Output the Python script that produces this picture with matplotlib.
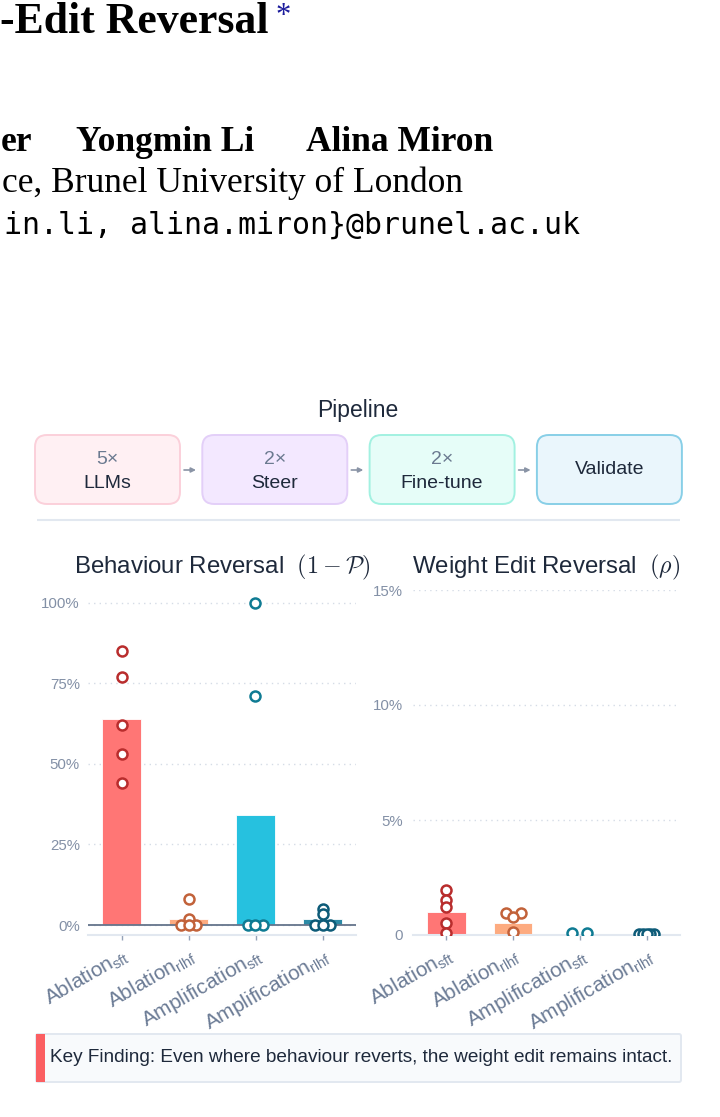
import numpy as np
import matplotlib
matplotlib.use("Agg")
import matplotlib.pyplot as plt
from matplotlib.patches import FancyBboxPatch, Rectangle

# ---------------- data ----------------
categories = ["Ablation", "Ablation", "Amplification", "Amplification"]
regimes = ["sft", "rlhf", "sft", "rlhf"]

behaviour_bar = [64, 2, 34, 1.8]
behaviour_pts = [[85, 77, 62, 53, 44],
                 [8, 2, 0, 0, 0],
                 [100, 71, 0, 0, 0],
                 [5.0, 3.4, 0, 0, 0]]

weight_bar = [1.01, 0.53, 0.04, 0.02]
weight_pts = [[1.95, 1.52, 1.22, 0.51, 0.07],
              [0.94, 0.94, 0.79, 0.12],
              [0.09, 0.08],
              [0.06, 0.05, 0.05, 0.04, 0.04]]

behaviour_ticks = [0, 25, 50, 75, 100]
behaviour_ticklabels = ["0%", "25%", "50%", "75%", "100%"]
weight_ticks = [0, 5, 10, 15]
weight_ticklabels = ["0", "5%", "10%", "15%"]

pipeline_title = "Pipeline"
pipeline_top = ["5×", "2×", "2×", ""]
pipeline_bottom = ["LLMs", "Steer", "Fine-tune", "Validate"]

paper_title = "-Edit Reversal"
authors_left = "er"
authors = ["Yongmin Li", "Alina Miron"]
affiliation = "ce, Brunel University of London"
email = "in.li, alina.miron}@brunel.ac.uk"
key_finding = "Key Finding: Even where behaviour reverts, the weight edit remains intact."

left_title = r"Behaviour Reversal  $(1-\mathcal{P})$"
right_title = r"Weight Edit Reversal  $(\rho)$"

# ---------------- style ----------------
bar_colors = ["#ff7675", "#fdab80", "#26c1df", "#2b8aa6"]
edge_colors = ["#b92d2d", "#c2623a", "#0f7b93", "#0d5b78"]
box_fc = ["#fff0f3", "#f3e8ff", "#e6fdf8", "#eaf6fc"]
box_ec = ["#fbd0da", "#e3cff8", "#a2f1e1", "#88cfe7"]

plt.rcParams["font.family"] = ["Liberation Sans", "DejaVu Sans"]
plt.rcParams["mathtext.fontset"] = "custom"
plt.rcParams["mathtext.rm"] = "Liberation Sans"
plt.rcParams["mathtext.it"] = "Liberation Sans:italic"

W, H = 720, 1117
fig = plt.figure(figsize=(W / 100, H / 100), dpi=100)
fig.patch.set_facecolor("white")

# background overlay in pixel coordinates
bg = fig.add_axes([0, 0, 1, 1], zorder=-10)
bg.set_xlim(0, W)
bg.set_ylim(H, 0)
bg.axis("off")

DARK = "#1e293b"
SERIF = ["Liberation Serif", "DejaVu Serif"]

# header (cropped paper page)
bg.text(0.5, 33, paper_title, family=SERIF, weight="bold", fontsize=31.5,
        ha="left", va="baseline", color="black")
bg.text(276, 24, "*", family=SERIF, fontsize=22, ha="left", va="baseline",
        color="#1c1c9c")
bg.text(0.5, 151, authors_left, family=SERIF, weight="bold", fontsize=25.5,
        ha="left", va="baseline", color="black")
bg.text(76, 151, authors[0], family=SERIF, weight="bold", fontsize=25.5,
        ha="left", va="baseline", color="black")
bg.text(493, 151, authors[1], family=SERIF, weight="bold", fontsize=25.5,
        ha="right", va="baseline", color="black")
bg.text(463, 192, affiliation, family=SERIF, fontsize=25.5,
        ha="right", va="baseline", color="black")
bg.text(580, 234, email, family=["DejaVu Sans Mono"], fontsize=21.5,
        ha="right", va="baseline", color="black")

# pipeline
bg.text(358, 411, pipeline_title, fontsize=16.5, ha="center", va="center", color=DARK)
bx0, bw, bgap, by, bh = 35, 145, 22.3, 435, 69
for i in range(len(pipeline_bottom)):
    x0 = bx0 + i * (bw + bgap)
    bg.add_patch(FancyBboxPatch((x0, by), bw, bh,
                                boxstyle="round,pad=0,rounding_size=12",
                                fc=box_fc[i], ec=box_ec[i], lw=1.4))
    cx = x0 + bw / 2
    if pipeline_top[i]:
        bg.text(cx, by + 24, pipeline_top[i], fontsize=14, ha="center", va="center",
                color="#6b7a90")
        bg.text(cx, by + 48, pipeline_bottom[i], fontsize=14, ha="center", va="center",
                color=DARK)
    else:
        bg.text(cx, by + bh / 2, pipeline_bottom[i], fontsize=14, ha="center",
                va="center", color=DARK)
    if i < len(pipeline_bottom) - 1:
        ax_ = x0 + bw
        bg.annotate("", xy=(ax_ + 16, by + 35), xytext=(ax_ + 4, by + 35),
                    arrowprops=dict(arrowstyle="-|>", color="#8a94a6", lw=1.2,
                                    mutation_scale=7, shrinkA=0, shrinkB=0))
bg.plot([37, 680], [520, 520], color="#e2e8f0", lw=1.5, solid_capstyle="butt")

# key finding box
bg.add_patch(FancyBboxPatch((36, 1034), 645, 48,
                            boxstyle="round,pad=0,rounding_size=2",
                            fc="#f8fafc", ec="#e2e8f0", lw=1.4))
bg.add_patch(Rectangle((36, 1034), 8.5, 48, fc="#fb5f62", ec="none"))
bg.text(50, 1058, key_finding, fontsize=13.7, ha="left", va="center", color=DARK)

# ---------------- charts ----------------
def px_axes(x0, x1, y0, y1):
    return fig.add_axes([x0 / W, 1 - y1 / H, (x1 - x0) / W, (y1 - y0) / H])


def swarm(ax, x, ys, thr_px=4.3, span_px=15.0):
    ys = np.asarray(ys, float)
    disp = ax.transData.transform(np.column_stack([np.full(len(ys), x), ys]))
    dy = disp[:, 1]
    order = np.argsort(-ys, kind="stable")
    groups = []
    for i in order:
        if groups and abs(dy[groups[-1][-1]] - dy[i]) < thr_px:
            groups[-1].append(i)
        else:
            groups.append([i])
    dx = np.full(len(ys), disp[0, 0])
    for g in groups:
        n = len(g)
        if n == 1:
            continue
        slots = np.linspace(-span_px / 2, span_px / 2, n)
        seq, lo, hi = [], 0, n - 1
        while lo <= hi:
            seq.append(lo)
            if hi != lo:
                seq.append(hi)
            lo += 1
            hi -= 1
        for idx, s in zip(g, seq):
            dx[idx] = disp[0, 0] + slots[s]
    pts = ax.transData.inverted().transform(np.column_stack([dx, dy]))
    return pts[:, 0], ys


tick_labels = [rf"{c}$_{{\mathrm{{{r}}}}}$" for c, r in zip(categories, regimes)]


def style_axes(ax, ticks, ticklabels, ylim, pad):
    ax.set_facecolor("none")
    ax.set_xlim(-0.5, 3.5)
    ax.set_ylim(*ylim)
    for s in ["left", "right", "top"]:
        ax.spines[s].set_visible(False)
    ax.spines["bottom"].set_color("#e2e8f0")
    ax.spines["bottom"].set_linewidth(1.5)
    ax.set_yticks(ticks)
    ax.set_yticklabels(ticklabels)
    ax.tick_params(axis="y", length=0, pad=pad, labelsize=10.8, labelcolor="#8390a6")
    ax.set_xticks(range(len(tick_labels)))
    ax.set_xticklabels(tick_labels, rotation=30, ha="right", rotation_mode="anchor",
                       fontsize=15, color="#6b7b95")
    ax.tick_params(axis="x", length=3.8, width=1, color="#94a3b8", pad=3)
    ax.yaxis.grid(True, linestyle=(0, (1, 3)), color="#d5dce6", lw=1)
    ax.set_axisbelow(True)


def draw(ax, bars, pts):
    ax.bar(range(len(bars)), bars, width=0.58, color=bar_colors, zorder=2,
           edgecolor="white", linewidth=0.6)
    for i, ys in enumerate(pts):
        xs, yv = swarm(ax, i, ys)
        ax.plot(xs, yv, "o", ms=7.2, mew=1.8, mfc="white", mec=edge_colors[i],
                zorder=5, linestyle="none")


axL = px_axes(88, 356, 590, 935)
style_axes(axL, behaviour_ticks, behaviour_ticklabels, (-3.1, 104), 5.8)
axL.axhline(0, color="#64748b", lw=1.3, zorder=3)
draw(axL, behaviour_bar, behaviour_pts)
axL.set_title(left_title, fontsize=17.3, color=DARK, pad=12, math_fontfamily="cm")

axR = px_axes(413, 680, 590, 935)
style_axes(axR, weight_ticks, weight_ticklabels, (0, 15), 7.2)
draw(axR, weight_bar, weight_pts)
axR.set_title(right_title, fontsize=17.3, color=DARK, pad=12, math_fontfamily="cm")

fig.savefig("out.png", dpi=100, facecolor="white")
